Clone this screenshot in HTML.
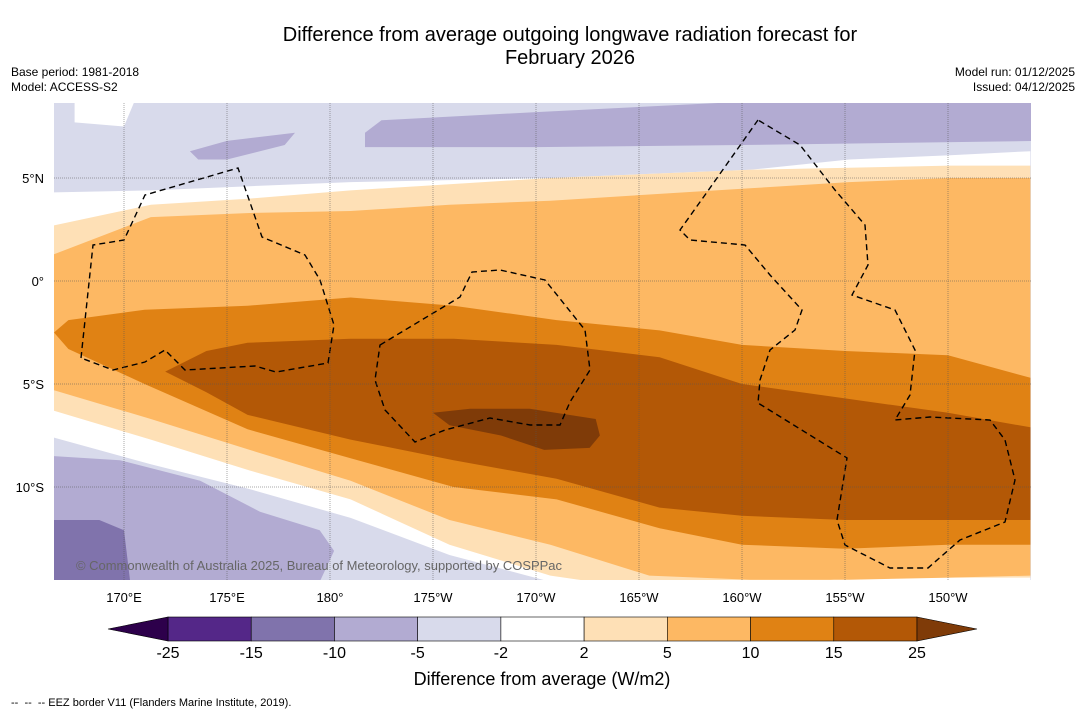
<!DOCTYPE html>
<html><head><meta charset="utf-8">
<style>
body{margin:0;background:#fff;width:1085px;height:713px;overflow:hidden;font-family:"Liberation Sans","DejaVu Sans",sans-serif;}
svg{position:absolute;left:0;top:0;}
</style></head>
<body>
<svg id="chart" width="1085" height="713" viewBox="0 0 1085 713">
  <defs><clipPath id="mapclip"><rect x="54" y="103" width="977" height="477"/></clipPath></defs>
  <text x="570" y="41" text-anchor="middle" font-size="20" fill="#000">Difference from average outgoing longwave radiation forecast for</text>
  <text x="570" y="64" text-anchor="middle" font-size="20" fill="#000">February 2026</text>
  <text x="11" y="76" font-size="12">Base period: 1981-2018</text>
  <text x="11" y="91" font-size="12">Model: ACCESS-S2</text>
  <text x="1075" y="76" font-size="12" text-anchor="end">Model run: 01/12/2025</text>
  <text x="1075" y="91" font-size="12" text-anchor="end">Issued: 04/12/2025</text>
  <g id="map" clip-path="url(#mapclip)"></g>
  <g id="grid"></g>
  <g id="axes"></g>
  <g id="cbar"></g>
  <text x="542" y="685" text-anchor="middle" font-size="18">Difference from average (W/m2)</text>
  <text x="11" y="706" font-size="11">-- &#160;-- &#160;-- EEZ border V11 (Flanders Marine Institute, 2019).</text>
</svg>
<script>
// ---- data ----
const lonTicks = [170,175,180,185,190,195,200,205,210];
const lonTickLabels = ["170°E","175°E","180°","175°W","170°W","165°W","160°W","155°W","150°W"];
const latTicks = [5,0,-5,-10];
const latTickLabels = ["5°N","0°","5°S","10°S"];
const cbarLevels = [-25,-15,-10,-5,-2,2,5,10,15,25];
const cbarColors = ["#542788","#8073ac","#b2abd2","#d8daeb","#ffffff","#fee0b6","#fdb863","#e08214","#b35806"];
const cbarLow = "#2d004b", cbarHigh = "#7f3b08";

const bandLons = [166.6,171.3,176.1,181.0,185.8,190.7,195.5,200.4,205.2,210.1,214.0];
const whiteTop = [4.3,4.4,4.6,4.8,4.9,5.0,5.2,5.4,5.9,6.1,6.3];
const whiteBot = [-7.6,-8.9,-10.1,-11.5,-13.3,-14.6,-15.5,-15.5,-15.5,-15.5,-15.5];
const fee0Top = [2.7,3.7,4.0,4.4,4.7,5.0,5.2,5.4,5.5,5.6,5.6];
const fee0Bot = [-6.3,-7.7,-9.2,-10.6,-12.8,-14.3,-15,-15,-14.4,-14.4,-14.4];
const fdb8Top = [1.3,3.1,3.3,3.4,3.7,3.9,4.2,4.5,4.8,5.0,5.0];
const fdb8Bot = [-5.3,-6.7,-8.2,-9.7,-11.6,-12.8,-14.3,-14.5,-14.5,-14.4,-14.3];
const e082Lons = [166.6,167.3,171,176,181,186,191,196,200,205,210,214];
const e082Top = [-2.5,-1.9,-1.4,-1.2,-0.8,-1.2,-1.9,-2.4,-3.1,-3.4,-3.6,-4.7];
const e082Bot = [-2.5,-3.3,-5.0,-7.2,-8.6,-10.0,-10.6,-12.0,-12.8,-13.0,-12.8,-12.8];
const b358Lons = [172.0,174,176,181,186,191,196,200,205,210,214];
const b358Top = [-4.4,-3.4,-3.0,-2.8,-2.8,-3.1,-3.7,-5.0,-5.7,-6.4,-7.1];
const b358Bot = [-4.4,-5.4,-6.5,-7.7,-8.7,-9.6,-11.0,-11.4,-11.6,-11.6,-11.6];
const peakLons = [185.0,186.8,189.7,192.9,193.1,192.6,190.4,188.3,185.8];
const peakLats = [-6.4,-6.2,-6.2,-6.7,-7.5,-8.1,-8.2,-7.5,-7.0];
const purpTopRightLons = [181.7,182.5,190,200,205,214.5,214.5,200,190,181.7];
const purpTopRightLats = [7.2,7.8,8.2,8.7,8.7,8.7,6.8,6.6,6.5,6.5];
const purpTopLeftLons = [173.2,175,178.3,177.8,175,173.6];
const purpTopLeftLats = [6.3,6.8,7.2,6.6,5.9,5.9];
const purpBotLons = [166.6,169.8,173.7,176.6,179.5,180.2,179.5,166.6];
const purpBotLats = [-8.5,-8.7,-9.7,-11.2,-12.1,-13.1,-14.6,-14.6];
const deepBotLons = [166.6,168.8,170.0,170.3,166.6];
const deepBotLats = [-11.6,-11.6,-12.1,-14.6,-14.6];
const whiteTLLons = [167.6,170.5,170.0,167.6];
const whiteTLLats = [8.7,8.7,7.5,7.7];

// ---- projection ----
const X = lon => 330 + (lon - 180) * 20.6;
const Y = lat => 281 - lat * 20.6;
const NS = "http://www.w3.org/2000/svg";
const map = document.getElementById('map');
function poly(lons, lats, fill, name){
  const p = document.createElementNS(NS,'polygon');
  p.setAttribute('points', lons.map((l,i)=>X(l).toFixed(1)+','+Y(lats[i]).toFixed(1)).join(' '));
  p.setAttribute('fill', fill);
  
  
  map.appendChild(p);
}
function band(lons, top, bot, fill, name){
  poly(lons.concat(lons.slice().reverse()), top.concat(bot.slice().reverse()), fill, name);
}
const bg = document.createElementNS(NS,'rect');
bg.setAttribute('x',54);bg.setAttribute('y',103);bg.setAttribute('width',977);bg.setAttribute('height',477);bg.setAttribute('fill','#d8daeb');


map.appendChild(bg);
poly(purpTopRightLons, purpTopRightLats, '#b2abd2', 'band-minus10-minus5-north');
poly(purpTopLeftLons, purpTopLeftLats, '#b2abd2', 'band-minus10-minus5-northwest');
poly(whiteTLLons, whiteTLLats, '#ffffff', 'band-near-zero-northwest');
band(bandLons, whiteTop, whiteBot, '#ffffff', 'band-near-zero');
band(bandLons, fee0Top, fee0Bot, '#fee0b6', 'band-2-5');
band(bandLons, fdb8Top, fdb8Bot, '#fdb863', 'band-5-10');
band(e082Lons, e082Top, e082Bot, '#e08214', 'band-10-15');
band(b358Lons, b358Top, b358Bot, '#b35806', 'band-15-25');
poly(peakLons, peakLats, '#7f3b08', 'band-above-25');
poly(purpBotLons, purpBotLats, '#b2abd2', 'band-minus10-minus5-south');
poly(deepBotLons, deepBotLats, '#8073ac', 'band-minus15-minus10');

// EEZ borders (dashed)
const eez = [
 "M81,358 L93,245 L124,240 L145,195 L238,168 L262,237 L305,255 L320,280 L334,325 L328,363 L276,372 L255,366 L185,370 L165,350 L145,362 L113,370 L81,358",
 "M380,345 L460,297 L472,272 L500,270 L545,280 L585,330 L590,370 L570,402 L560,425 L530,425 L490,418 L445,430 L415,442 L385,410 L375,380 Z",
 "M758,120 L705,195 L680,230 L690,240 L745,245 L770,275 L802,310 L795,330 L770,350 L760,380 L758,403 L847,458 L837,520 L845,545 L890,568 L928,568 L960,540 L1005,522 L1015,480 L1005,440 L990,420 L930,417 L895,420 L910,395 L915,350 L895,310 L852,295 L868,265 L865,225 L835,190 L800,145 Z"
];
eez.forEach((d,i)=>{
  const p=document.createElementNS(NS,'path');
  p.setAttribute('d',d);p.setAttribute('fill','none');p.setAttribute('stroke','#000');p.setAttribute('stroke-width','1.4');p.setAttribute('stroke-dasharray','6 4');
  
  
  map.appendChild(p);
});
const cr=document.createElementNS(NS,'text');
cr.setAttribute('x',76);cr.setAttribute('y',570);cr.setAttribute('font-size','12.5');cr.setAttribute('fill','#666');
cr.setAttribute('textLength','486');cr.setAttribute('lengthAdjust','spacingAndGlyphs');
cr.textContent='© Commonwealth of Australia 2025, Bureau of Meteorology, supported by COSPPac';


map.appendChild(cr);

// grid and axes
const grid=document.getElementById('grid'), axes=document.getElementById('axes');
lonTicks.forEach((l,i)=>{
  const ln=document.createElementNS(NS,'line');
  ln.setAttribute('x1',X(l));ln.setAttribute('x2',X(l));ln.setAttribute('y1',103);ln.setAttribute('y2',580);
  ln.setAttribute('stroke','#555');ln.setAttribute('stroke-width','0.5');ln.setAttribute('stroke-dasharray','1 1');
  
  
  grid.appendChild(ln);
  const t=document.createElementNS(NS,'text');
  t.setAttribute('x',X(l));t.setAttribute('y',602);t.setAttribute('text-anchor','middle');t.setAttribute('font-size','13');
  t.textContent=lonTickLabels[i];
  
  
  axes.appendChild(t);
});
latTicks.forEach((l,i)=>{
  const ln=document.createElementNS(NS,'line');
  ln.setAttribute('y1',Y(l));ln.setAttribute('y2',Y(l));ln.setAttribute('x1',54);ln.setAttribute('x2',1031);
  ln.setAttribute('stroke','#555');ln.setAttribute('stroke-width','0.5');ln.setAttribute('stroke-dasharray','1 1');
  
  
  grid.appendChild(ln);
  const t=document.createElementNS(NS,'text');
  t.setAttribute('x',44);t.setAttribute('y',Y(l)+5);t.setAttribute('text-anchor','end');t.setAttribute('font-size','13');
  t.textContent=latTickLabels[i];
  
  
  axes.appendChild(t);
});

// colorbar
const cbar=document.getElementById('cbar');
const cx0=168, cw=(917-168)/(cbarLevels.length-1), cy=617, ch=24;
cbarColors.forEach((c,i)=>{
  const r=document.createElementNS(NS,'rect');
  r.setAttribute('x',cx0+i*cw);r.setAttribute('y',cy);r.setAttribute('width',cw);r.setAttribute('height',ch);
  r.setAttribute('fill',c);r.setAttribute('stroke','#000');r.setAttribute('stroke-width','0.6');
  
  
  cbar.appendChild(r);
});
const lt=document.createElementNS(NS,'polygon');
lt.setAttribute('points',`108,${cy+ch/2} ${cx0},${cy} ${cx0},${cy+ch}`);lt.setAttribute('fill',cbarLow);lt.setAttribute('stroke','#000');lt.setAttribute('stroke-width','0.6');


cbar.appendChild(lt);
const rt=document.createElementNS(NS,'polygon');
rt.setAttribute('points',`917,${cy} 977,${cy+ch/2} 917,${cy+ch}`);rt.setAttribute('fill',cbarHigh);rt.setAttribute('stroke','#000');rt.setAttribute('stroke-width','0.6');


cbar.appendChild(rt);
cbarLevels.forEach((v,i)=>{
  const t=document.createElementNS(NS,'text');
  t.setAttribute('x',cx0+i*cw);t.setAttribute('y',658);t.setAttribute('text-anchor','middle');t.setAttribute('font-size','16');
  t.textContent=String(v);
  
  
  cbar.appendChild(t);
});
</script>
</body></html>
